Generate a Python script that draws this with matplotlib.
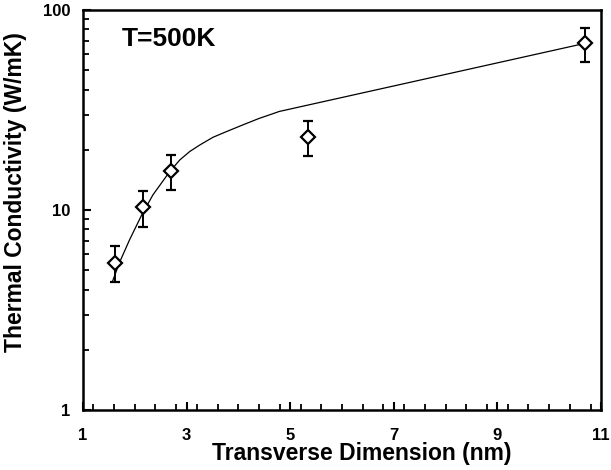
import matplotlib
matplotlib.use("Agg")
import matplotlib.pyplot as plt
from matplotlib.ticker import FixedLocator, MultipleLocator, LogLocator, NullFormatter

plt.rcParams['font.family'] = ['Liberation Sans', 'DejaVu Sans']
plt.rcParams['font.weight'] = 'bold'

# measured points
x_pts = [1.62, 2.15, 2.69, 5.34, 10.70]
k_pts = [5.45, 10.3, 15.7, 23.3, 68.2]
k_hi = [6.6, 12.4, 18.8, 27.9, 81.5]
k_lo = [4.37, 8.25, 12.55, 18.7, 54.8]

# model curve
x_fit = [1.57, 1.71, 1.90, 2.13, 2.35, 2.67, 2.87, 3.06, 3.25, 3.51, 3.76,
         4.08, 4.40, 4.60, 4.79, 10.70]
k_fit = [4.4, 5.5, 7.1, 9.4, 11.9, 15.5, 17.8, 19.6, 21.1, 23.1, 24.6,
         26.6, 28.7, 29.9, 31.1, 68.2]

err_lo = [k - lo for k, lo in zip(k_pts, k_lo)]
err_hi = [hi - k for k, hi in zip(k_pts, k_hi)]

fig = plt.figure(figsize=(6.11, 4.70), dpi=100)
ax = fig.add_axes([0.1358, 0.1277, 0.8478, 0.851])

ax.plot(x_fit, k_fit, color='black', lw=0.9)
ax.errorbar(x_pts, k_pts, yerr=[err_lo, err_hi], fmt='D', ms=7, mfc='white',
            mec='black', mew=1.6, ecolor='black', elinewidth=1.4, capsize=3.5,
            capthick=1.4, zorder=3)

ax.set_yscale('log')
ax.set_xlim(1, 11)
ax.set_ylim(1, 100)
ax.xaxis.set_major_locator(FixedLocator([1, 3, 5, 7, 9, 11]))
ax.xaxis.set_minor_locator(MultipleLocator(0.4))
ax.yaxis.set_major_locator(FixedLocator([1, 10, 100]))
ax.yaxis.set_minor_locator(LogLocator(base=10, subs=range(2, 10)))
ax.yaxis.set_minor_formatter(NullFormatter())
ax.set_yticklabels(['1', '10', '100'])

for s in ax.spines.values():
    s.set_linewidth(1.8)
ax.tick_params(which='major', direction='in', length=6, width=1.5, labelsize=12, pad=9)
ax.tick_params(which='minor', direction='in', length=4, width=1.3)
ax.tick_params(axis='x', which='major', pad=13)

ax.set_xlabel('Transverse Dimension (nm)', fontsize=16.5, fontweight='bold')
ax.set_ylabel('Thermal Conductivity (W/mK)', fontsize=16.5, fontweight='bold')
ax.xaxis.set_label_coords(0.539, -0.08)
ax.yaxis.set_label_coords(-0.108, 0.545)
ax.text(0.075, 0.91, 'T=500K', transform=ax.transAxes, fontsize=19, fontweight='bold')

fig.savefig('out.png', dpi=100)
